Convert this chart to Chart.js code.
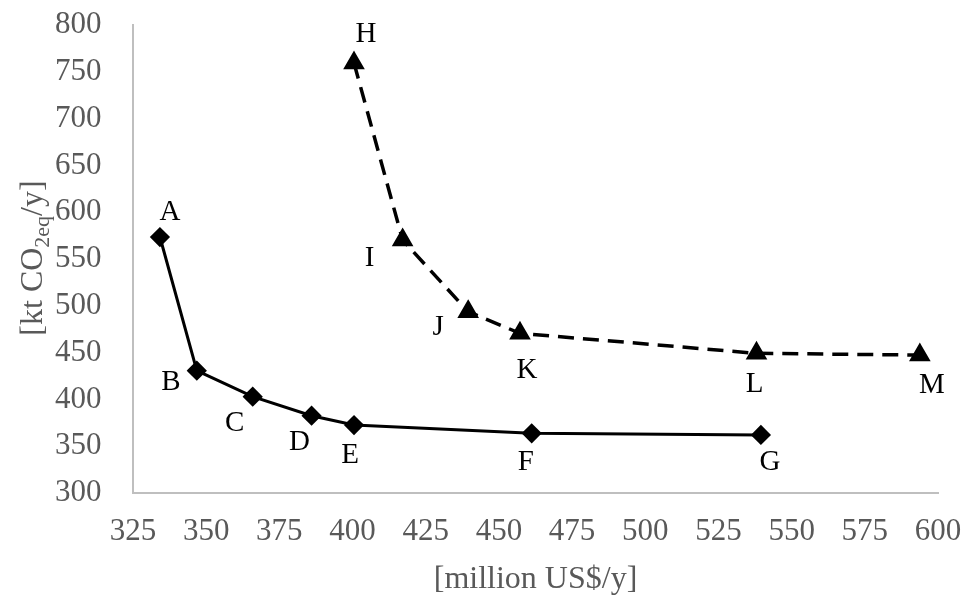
<!DOCTYPE html>
<html>
<head>
<meta charset="utf-8">
<script src="https://cdn.jsdelivr.net/npm/chart.js@4"></script>
<style>
  html, body { margin: 0; padding: 0; background: #fff; }
  canvas { display: block; }
</style>
</head>
<body>
<canvas id="chart" width="969" height="601"></canvas>
<script>
// solid curve A..G
const namesA = ['A', 'B', 'C', 'D', 'E', 'F', 'G'];
const costA = [334.2, 346.8, 365.9, 386.0, 400.5, 461.2, 539.5];
const emisA = [573.5, 430.7, 402.9, 382.6, 372.6, 363.8, 362.0];
// dashed curve H..M
const namesB = ['H', 'I', 'J', 'K', 'L', 'M'];
const costB = [400.5, 417.1, 439.5, 457.2, 538.0, 593.8];
const emisB = [759.4, 570.3, 493.7, 470.6, 449.2, 447.4];

// label offsets in px from the marker
const offA = [[10, -25], [-26, 12], [-18, 27], [-12, 27], [-4, 30], [-6, 29], [9, 27]];
const offB = [[12, -29], [-33, 18], [-30, 16], [7, 37], [-2, 31], [12, 30]];

const serif = '"Liberation Serif", "Times New Roman", Times, serif';
const grey = '#595959';

const toPts = (xs, ys) => xs.map((x, i) => ({x: x, y: ys[i]}));

const pointLabels = {
    id: 'pointLabels',
    afterDatasetsDraw(chart) {
        const ctx = chart.ctx;
        ctx.save();
        ctx.font = '29px ' + serif;
        ctx.fillStyle = '#000';
        ctx.textAlign = 'center';
        ctx.textBaseline = 'middle';
        [[namesA, offA], [namesB, offB]].forEach(([names, offs], d) => {
            chart.getDatasetMeta(d).data.forEach((pt, i) => {
                ctx.fillText(names[i], pt.x + offs[i][0], pt.y + offs[i][1]);
            });
        });
        ctx.restore();
    }
};

const axisTitles = {
    id: 'axisTitles',
    afterDraw(chart) {
        const ctx = chart.ctx;
        const area = chart.chartArea;
        ctx.save();
        ctx.fillStyle = grey;
        ctx.textBaseline = 'alphabetic';
        // x title
        ctx.font = '32px ' + serif;
        ctx.textAlign = 'center';
        ctx.fillText('[million US$/y]', (area.left + area.right) / 2, 588);
        // y title with subscript
        const parts = [['[kt CO', 32, 0], ['2eq', 22, 7], ['/y]', 32, 0]];
        let total = 0;
        parts.forEach(p => { ctx.font = p[1] + 'px ' + serif; total += ctx.measureText(p[0]).width; });
        ctx.translate(42, 258);
        ctx.rotate(-Math.PI / 2);
        ctx.textAlign = 'left';
        let x = -total / 2;
        parts.forEach(p => {
            ctx.font = p[1] + 'px ' + serif;
            ctx.fillText(p[0], x, p[2]);
            x += ctx.measureText(p[0]).width;
        });
        ctx.restore();
    }
};

new Chart(document.getElementById('chart'), {
    type: 'scatter',
    data: {
        datasets: [{
            data: toPts(costA, emisA),
            showLine: true,
            borderColor: '#000',
            backgroundColor: '#000',
            borderWidth: 3,
            pointStyle: 'rectRot',
            pointRadius: 8,
            pointHoverRadius: 8
        }, {
            data: toPts(costB, emisB),
            showLine: true,
            borderColor: '#000',
            backgroundColor: '#000',
            borderWidth: 3.5,
            borderDash: [16, 9],
            pointStyle: 'triangle',
            pointRadius: 9,
            pointHoverRadius: 9
        }]
    },
    options: {
        responsive: false,
        animation: false,
        layout: { padding: { left: 55, right: 31, top: 25, bottom: 0 } },
        plugins: {
            legend: { display: false },
            tooltip: { enabled: false }
        },
        scales: {
            x: {
                type: 'linear',
                min: 325, max: 600,
                grid: { display: false, drawTicks: false },
                border: { display: true, color: '#bfbfbf', width: 2 },
                ticks: { stepSize: 25, padding: 5, color: grey, font: { family: serif, size: 31, lineHeight: 2.16 } },
                afterFit(scale) { scale.height = 108; }
            },
            y: {
                min: 300, max: 800,
                grid: { display: false, drawTicks: false },
                border: { display: true, color: '#bfbfbf', width: 2 },
                ticks: { stepSize: 50, padding: 0, crossAlign: 'far', color: grey, font: { family: serif, size: 31 } },
                afterFit(scale) { scale.width = 78; }
            }
        }
    },
    plugins: [pointLabels, axisTitles]
});
</script>
</body>
</html>
